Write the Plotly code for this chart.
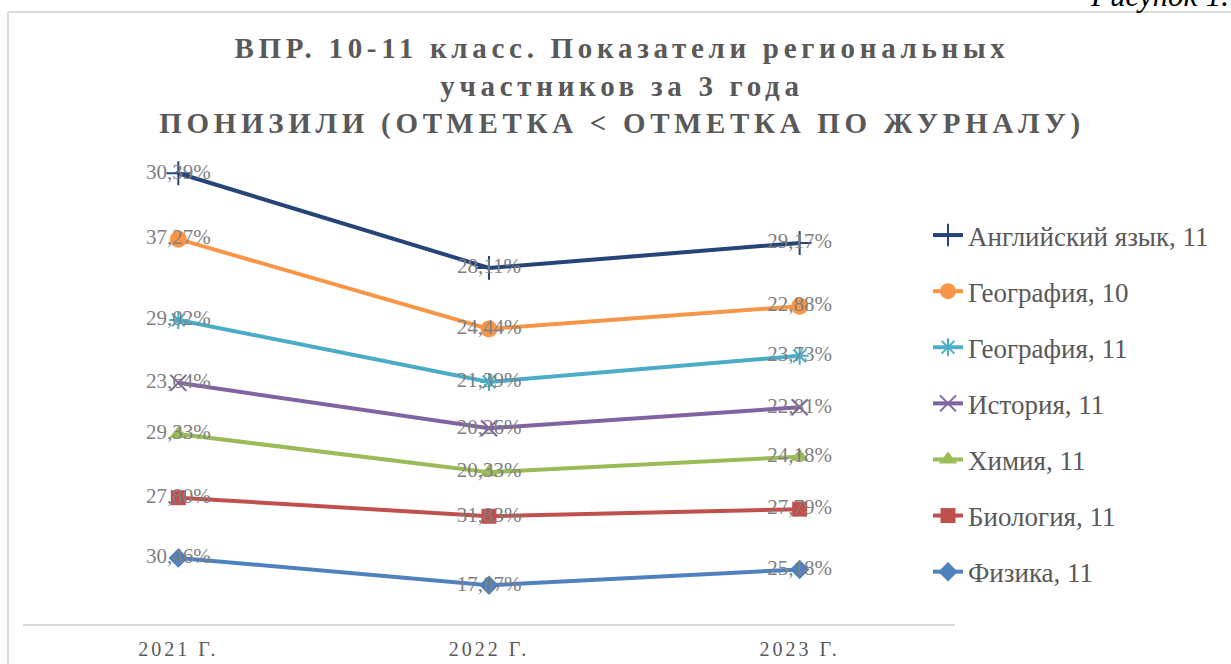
import numpy as np
import plotly.graph_objects as go

years = ["2021 Г.", "2022 Г.", "2023 Г."]
series_names = ["Физика, 11", "Биология, 11", "Химия, 11", "История, 11",
                "География, 11", "География, 10", "Английский язык, 11"]
fizika = [30.46, 17.87, 25.18]
biologiya = [27.80, 31.83, 27.79]
himiya = [29.33, 20.33, 24.18]
istoriya = [23.64, 20.26, 22.81]
geografiya11 = [29.02, 21.39, 23.73]
geografiya10 = [37.27, 24.44, 22.88]
angliyskiy = [30.39, 28.11, 29.17]

values = [fizika, biologiya, himiya, istoriya, geografiya11, geografiya10, angliyskiy]
colors = ["#4F81BD", "#C0504D", "#9BBB59", "#8064A2", "#4BACC6", "#F79646", "#264478"]
symbols = ["diamond", "square", "triangle-up", "x-thin-open", "asterisk-open", "circle", "cross-thin-open"]
sizes = [15, 15, 16, 16, 15, 17, 17]

W, H = 1231, 664
L, R, T, B = 23, W - 955, 150, H - 624
pw, ph = W - L - R, H - T - B

def px(x):
    return (x - L) / pw

def py(y):
    return (624 - y) / ph

fig = go.Figure()
cum = np.cumsum(np.array(values), axis=0)
for i in reversed(range(len(values))):
    thin = symbols[i].endswith("open")
    fig.add_trace(go.Scatter(
        x=years, y=cum[i], name=series_names[i],
        mode="lines+markers+text",
        line=dict(color=colors[i], width=4),
        marker=dict(symbol=symbols[i], size=sizes[i], color=colors[i],
                    line=dict(color=colors[i], width=2 if thin else 0)),
        text=[f"{v:.2f}%".replace(".", ",") for v in values[i]],
        textposition="middle center",
        textfont=dict(family="Liberation Serif", size=21, color="#7F7F7F"),
        legendgroup=str(i),
        cliponaxis=False,
    ))

fig.update_layout(
    width=W, height=H,
    margin=dict(l=L, r=R, t=T, b=B, autoexpand=False),
    paper_bgcolor="white", plot_bgcolor="white",
    title=dict(
        text="ВПР. 10-11 класс. Показатели региональных<br>участников за 3 года<br>ПОНИЗИЛИ (ОТМЕТКА < ОТМЕТКА ПО ЖУРНАЛУ)",
        x=622 / W, xanchor="center", y=1 - 58 / H, yanchor="top",
        font=dict(family="Liberation Serif", size=29, color="#595959", weight="bold"),
    ),
    xaxis=dict(
        range=[-0.5 + (L - 23) / 310, 2.5], showgrid=False, zeroline=False,
        showline=True, linecolor="#D9D9D9", linewidth=2, automargin=False,
        ticks="", ticklabelstandoff=6,
        tickfont=dict(family="Liberation Serif", size=20, color="#595959"),
    ),
    yaxis=dict(range=[0, ph / 2.168], visible=False, showgrid=False, zeroline=False,
               automargin=False),
    legend=dict(
        x=px(928), y=py(211), xanchor="left", yanchor="top",
        traceorder="reversed+grouped", tracegroupgap=18,
        font=dict(family="Liberation Serif", size=27, color="#595959"),
        bgcolor="rgba(0,0,0,0)",
    ),
    showlegend=True,
)

fig.add_shape(type="line", xref="paper", yref="paper",
              x0=px(8), x1=px(1240), y0=py(12), y1=py(12),
              line=dict(color="#D9D9D9", width=2))
fig.add_shape(type="line", xref="paper", yref="paper",
              x0=px(8), x1=px(8), y0=py(12), y1=py(670),
              line=dict(color="#D9D9D9", width=2))
fig.add_annotation(text="Рисунок 1.", xref="paper", yref="paper",
                   x=px(1231), y=py(-5), xanchor="right", yanchor="middle",
                   showarrow=False,
                   font=dict(family="Liberation Serif", size=31, color="black", style="italic"))

post = """
document.body.style.margin='0';
var gd=document.getElementById('{plot_id}');
function sp(){
  gd.querySelectorAll('.gtitle').forEach(function(e){e.style.letterSpacing='4.7px';});
  gd.querySelectorAll('.xtick text').forEach(function(e){e.style.letterSpacing='3px';});
}
sp(); gd.on('plotly_afterplot', sp);
"""
fig.write_html("out.html", post_script=post, config={"displayModeBar": False})
